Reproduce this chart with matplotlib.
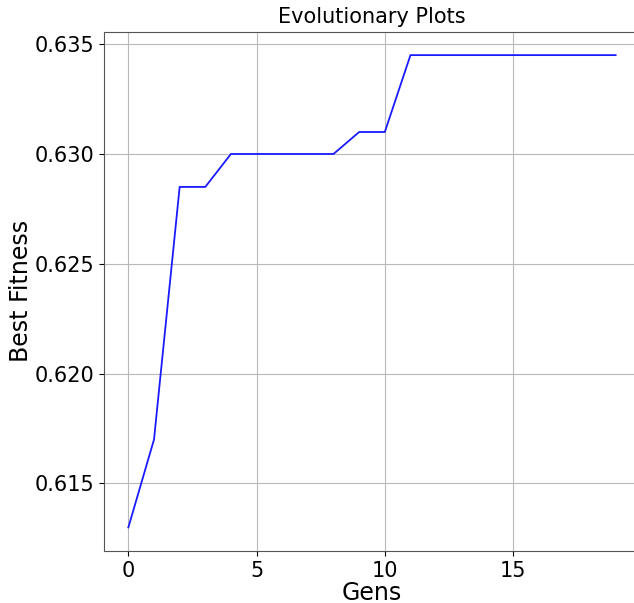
import matplotlib
matplotlib.use("Agg")
import matplotlib.pyplot as plt

gens = list(range(20))
best_fitness = [0.613, 0.617, 0.6285, 0.6285, 0.630, 0.630, 0.630, 0.630, 0.630,
                0.631, 0.631, 0.6345, 0.6345, 0.6345, 0.6345, 0.6345, 0.6345,
                0.6345, 0.6345, 0.6345]

fig = plt.figure(figsize=(6.34, 6.03), dpi=100)
ax = fig.add_axes([104/634, 1-551/603, (640-104)/634, (551-31.5)/603])
ax.plot(gens, best_fitness, color='#1a1aff', linewidth=1.3)
ax.grid(True, color='#b8b8b8', linewidth=0.8)
ax.set_axisbelow(True)
ax.set_title("Evolutionary Plots", fontsize=15)
ax.set_xlabel("Gens", fontsize=17, labelpad=0)
ax.set_ylabel("Best Fitness", fontsize=17, labelpad=1)
ax.tick_params(labelsize=15)
ax.set_xticks([0, 5, 10, 15])
ax.set_yticks([0.615, 0.620, 0.625, 0.630, 0.635])
for s in ax.spines.values():
    s.set_color('#555555')
    s.set_linewidth(0.8)
fig.savefig("out.png", dpi=100)
